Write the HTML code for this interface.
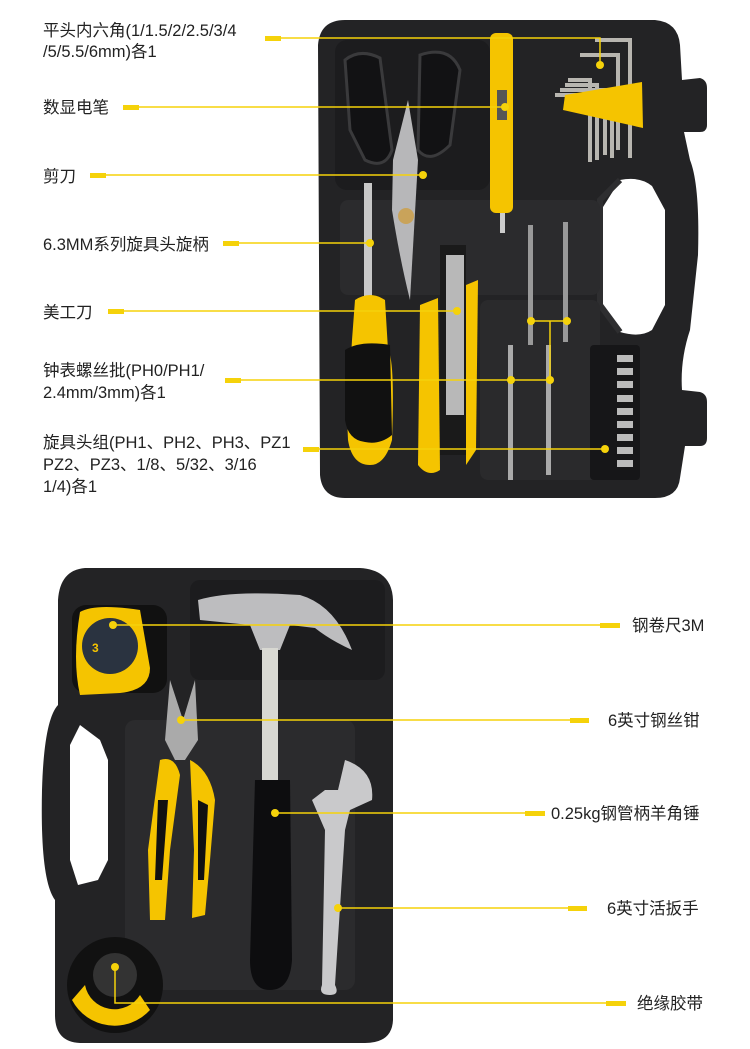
<!DOCTYPE html>
<html><head><meta charset="utf-8"><style>
html,body{margin:0;padding:0;background:#fff;width:750px;height:1049px;overflow:hidden}
svg{display:block}
text{font-family:"Liberation Sans","Noto Sans CJK SC",sans-serif;font-size:16.5px;fill:#222}
</style></head><body>
<svg width="750" height="1049" viewBox="0 0 750 1049" xmlns="http://www.w3.org/2000/svg">
<path d="M345 20 L655 20 Q678 22 680 45 L682 80 L700 78 Q707 80 707 88 L707 125 Q707 132 700 132 L684 132 L690 160 Q700 185 698 255 L690 330 Q680 360 682 390 L700 392 Q707 394 707 402 L707 438 Q707 446 700 446 L685 446 L680 478 Q678 498 655 498 L345 498 Q322 498 320 475 L318 45 Q320 20 345 20 Z" fill="#232325"/>
<path d="M620 180 Q640 176 652 186 L665 210 L665 305 L652 330 Q640 338 620 332 L600 300 L598 215 Z" fill="#fff"/>
<path d="M620 180 L600 200 L600 305 L620 332" fill="none" stroke="#2e2e30" stroke-width="6"/>
<rect x="335" y="40" width="155" height="150" rx="12" fill="#1c1c1e"/>
<rect x="340" y="200" width="260" height="95" rx="8" fill="#2b2b2d"/>
<rect x="480" y="300" width="120" height="180" rx="8" fill="#2a2a2c"/>
<path d="M345 60 Q360 48 380 58 L392 150 Q385 170 365 160 L350 130 Z" fill="#121214" stroke="#3a3a3c" stroke-width="3"/>
<path d="M420 55 Q450 45 460 70 L450 145 Q430 165 418 150 Z" fill="#121214" stroke="#3a3a3c" stroke-width="3"/>
<path d="M393 160 L408 100 L418 160 L410 300 Q400 260 392 210 Z" fill="#b7b7b9"/>
<circle cx="406" cy="216" r="8" fill="#c9a35a"/>
<rect x="490" y="33" width="23" height="180" rx="6" fill="#f5c400"/>
<rect x="497" y="90" width="10" height="30" fill="#555"/>
<rect x="500" y="213" width="5" height="20" fill="#ccc"/>
<g stroke="#b8b6b0" stroke-width="4" fill="none">
<path d="M565 85 L597 85 L597 160"/><path d="M560 90 L605 90 L605 155"/><path d="M555 95 L612 95 L612 158"/><path d="M568 80 L590 80 L590 162"/><path d="M580 55 L618 55 L618 150"/><path d="M595 40 L630 40 L630 158"/>
</g>
<path d="M565 95 L642 82 L643 128 L563 110 Z" fill="#f5c400"/>
<rect x="364" y="183" width="8" height="120" fill="#c8c8c8"/>
<path d="M355 300 Q370 290 385 300 L388 350 Q395 360 392 440 Q385 465 370 465 Q352 465 348 440 L345 370 Q352 355 352 340 Z" fill="#f5c400"/>
<path d="M345 350 Q360 340 390 345 L392 435 Q380 445 365 442 Q348 440 345 420 Z" fill="#111"/>
<path d="M420 305 L438 298 L440 470 Q428 478 418 465 Z" fill="#f5c400"/>
<rect x="440" y="245" width="26" height="210" fill="#1a1a1a"/>
<rect x="446" y="255" width="18" height="160" fill="#b8b8b8"/>
<path d="M466 285 L478 280 L476 450 L466 465 Z" fill="#f5c400"/>
<rect x="528" y="225" width="5" height="120" fill="#999"/><rect x="563" y="222" width="5" height="120" fill="#999"/>
<rect x="508" y="345" width="5" height="135" fill="#aaa"/><rect x="546" y="345" width="5" height="130" fill="#aaa"/>
<rect x="590" y="345" width="50" height="135" rx="4" fill="#161618"/>
<g fill="#bbb"><rect x="617" y="355" width="16" height="7"/><rect x="617" y="368" width="16" height="7"/><rect x="617" y="381" width="16" height="7"/><rect x="617" y="395" width="16" height="7"/><rect x="617" y="408" width="16" height="7"/><rect x="617" y="421" width="16" height="7"/><rect x="617" y="434" width="16" height="7"/><rect x="617" y="447" width="16" height="7"/><rect x="617" y="460" width="16" height="7"/></g>

<path d="M85 568 L360 568 Q392 570 393 600 L393 1020 Q392 1043 365 1043 L80 1043 Q55 1042 55 1015 L55 900 Q40 880 42 790 Q44 720 58 705 L58 600 Q60 570 85 568 Z" fill="#232325"/>
<path d="M80 725 L100 740 L108 760 L108 860 L98 880 L78 885 L70 860 L70 745 Z" fill="#fff"/>
<rect x="190" y="580" width="195" height="100" rx="10" fill="#1c1c1e"/>
<rect x="125" y="720" width="230" height="270" rx="10" fill="#2b2b2d"/>
<rect x="72" y="605" width="95" height="88" rx="14" fill="#111"/>
<path d="M80 612 Q95 603 140 610 L150 668 Q150 690 120 693 L80 695 Q72 660 80 612 Z" fill="#f5c400"/>
<circle cx="110" cy="646" r="28" fill="#2a3340"/>
<text x="92" y="652" style="font-size:12px;fill:#f5c400;font-weight:bold">3</text>
<path d="M198 600 Q230 590 300 595 Q335 605 352 650 Q330 640 315 628 L290 625 L280 650 L260 650 L250 625 L200 620 Z" fill="#bdbdbf"/>
<rect x="262" y="648" width="16" height="135" fill="#d8d8d2"/>
<path d="M255 780 L290 780 L292 960 Q290 990 270 990 Q250 990 250 960 Z" fill="#0d0d0f"/>
<path d="M170 680 L183 720 L195 680 L198 740 L185 760 L175 760 L165 740 Z" fill="#aaa"/>
<path d="M160 760 Q175 755 180 775 L170 850 L165 920 L150 920 L148 850 Z" fill="#f5c400"/>
<path d="M190 760 Q210 770 215 800 L210 860 L205 915 L192 918 L194 850 Z" fill="#f5c400"/>
<path d="M158 800 L168 800 L162 880 L155 880 Z M198 800 L208 805 L204 880 L198 880 Z" fill="#111"/>
<path d="M345 760 Q375 770 372 800 L350 810 L345 830 L335 985 Q340 995 330 995 Q318 995 322 985 L325 830 L312 800 L325 790 L338 790 Z" fill="#c9c9cb"/>
<circle cx="115" cy="985" r="48" fill="#111"/>
<path d="M72 1000 A48 48 0 0 0 150 1010 L140 995 A30 30 0 0 1 85 985 Z" fill="#f5c400"/>
<circle cx="115" cy="975" r="22" fill="#333"/>

<g stroke="#f5d20a" stroke-width="1.5" fill="none">
<path d="M267 38 L600 38 L600 65"/>
<path d="M123 107 L505 107"/>
<path d="M90 175 L423 175"/>
<path d="M223 243 L370 243"/>
<path d="M108 311 L457 311"/>
<path d="M225 380 L550 380 M531 321 L567 321 M550 321 L550 380"/>
<path d="M303 449 L605 449"/>
<path d="M113 625 L620 625"/>
<path d="M181 720 L589 720"/>
<path d="M275 813 L545 813"/>
<path d="M338 908 L587 908"/>
<path d="M115 967 L115 1003 L626 1003"/>
</g>
<g fill="#f5d20a">
<rect x="265" y="36" width="16" height="5"/><rect x="123" y="105" width="16" height="5"/><rect x="90" y="173" width="16" height="5"/><rect x="223" y="241" width="16" height="5"/><rect x="108" y="309" width="16" height="5"/><rect x="225" y="378" width="16" height="5"/><rect x="303" y="447" width="16" height="5"/>
<rect x="600" y="623" width="20" height="5"/><rect x="570" y="718" width="19" height="5"/><rect x="525" y="811" width="20" height="5"/><rect x="568" y="906" width="19" height="5"/><rect x="606" y="1001" width="20" height="5"/>
<circle cx="600" cy="65" r="4"/><circle cx="505" cy="107" r="4"/><circle cx="423" cy="175" r="4"/><circle cx="370" cy="243" r="4"/><circle cx="457" cy="311" r="4"/><circle cx="511" cy="380" r="4"/><circle cx="550" cy="380" r="4"/><circle cx="531" cy="321" r="4"/><circle cx="567" cy="321" r="4"/><circle cx="605" cy="449" r="4"/>
<circle cx="113" cy="625" r="4"/><circle cx="181" cy="720" r="4"/><circle cx="275" cy="813" r="4"/><circle cx="338" cy="908" r="4"/><circle cx="115" cy="967" r="4"/>
</g>
<text x="43" y="36">平头内六角(1/1.5/2/2.5/3/4</text>
<text x="43" y="57">/5/5.5/6mm)各1</text>
<text x="43" y="113">数显电笔</text>
<text x="43" y="182">剪刀</text>
<text x="43" y="250">6.3MM系列旋具头旋柄</text>
<text x="43" y="318">美工刀</text>
<text x="43" y="376">钟表螺丝批(PH0/PH1/</text>
<text x="43" y="398">2.4mm/3mm)各1</text>
<text x="43" y="448">旋具头组(PH1、PH2、PH3、PZ1</text>
<text x="43" y="470">PZ2、PZ3、1/8、5/32、3/16</text>
<text x="43" y="492">1/4)各1</text>
<text x="632" y="631">钢卷尺3M</text>
<text x="608" y="726">6英寸钢丝钳</text>
<text x="551" y="819">0.25kg钢管柄羊角锤</text>
<text x="607" y="914">6英寸活扳手</text>
<text x="637" y="1009">绝缘胶带</text>
</svg>
</body></html>
